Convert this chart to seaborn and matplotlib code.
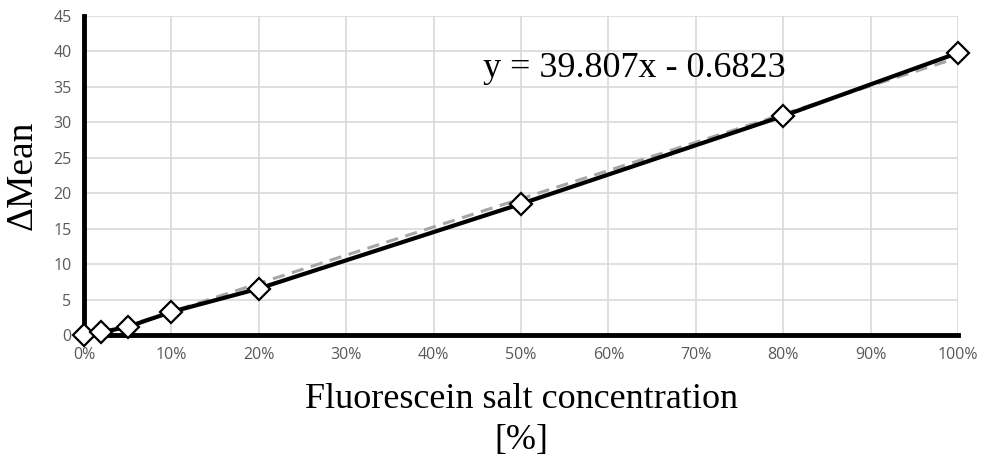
"""
Fluorescein salt concentration vs. delta mean intensity, with linear trendline.
"""

import numpy as np
import pandas as pd
import matplotlib
matplotlib.use("Agg")
import matplotlib.pyplot as plt
import seaborn as sns
from matplotlib.ticker import PercentFormatter

# Data
concentration = [0.0, 0.02, 0.05, 0.10, 0.20, 0.50, 0.80, 1.00]
delta_mean = [0.0, 0.4, 1.15, 3.25, 6.55, 18.5, 30.9, 39.8]
slope = 39.807
intercept = -0.6823

df = pd.DataFrame({'conc': concentration, 'dmean': delta_mean})
trend = pd.DataFrame({'conc': [0.0, 1.0]})
trend['dmean'] = slope * trend['conc'] + intercept

sns.set_theme(style='white')
fig = plt.figure(figsize=(9.82, 4.62), dpi=100)
ax = fig.add_axes([0.0855, 0.2749, 0.8901, 0.6905])

sns.lineplot(data=trend, x='conc', y='dmean', ax=ax, color='#a6a6a6',
             linestyle=(0, (4, 2.5)), linewidth=2.2, zorder=3)
sns.lineplot(data=df, x='conc', y='dmean', ax=ax, color='black',
             linewidth=3, zorder=6, marker='D', markersize=11,
             markerfacecolor='white', markeredgecolor='black',
             markeredgewidth=1.6, clip_on=False)

ax.set_xlim(0, 1)
ax.set_ylim(0, 45)
ax.set_xticks(np.arange(0, 1.01, 0.1))
ax.set_yticks(np.arange(0, 46, 5))
ax.xaxis.set_major_formatter(PercentFormatter(1.0, decimals=0))
ax.grid(True, color='#d9d9d9', linewidth=1.2)
ax.set_axisbelow(True)

for side in ['top', 'right']:
    ax.spines[side].set_visible(False)
for side in ['left', 'bottom']:
    ax.spines[side].set_color('black')
    ax.spines[side].set_linewidth(3.5)
    ax.spines[side].set_zorder(5)

ax.tick_params(axis='both', which='both', length=0, labelsize=11.5,
               labelcolor='#595959', pad=9)
for lbl in ax.get_xticklabels() + ax.get_yticklabels():
    lbl.set_family('Open Sans')

ax.set_xlabel('Fluorescein salt concentration\n[%]', family='Liberation Serif',
              fontsize=26, color='black', labelpad=14, linespacing=1.32)
ax.set_ylabel('ΔMean', family='Liberation Serif', fontsize=27, color='black',
              labelpad=10)

ax.text(0.4565, 37.6, f'y = {slope}x - {abs(intercept)}', family='Liberation Serif',
        fontsize=26, va='center', ha='left', color='black')

fig.savefig('out.png', dpi=100)
